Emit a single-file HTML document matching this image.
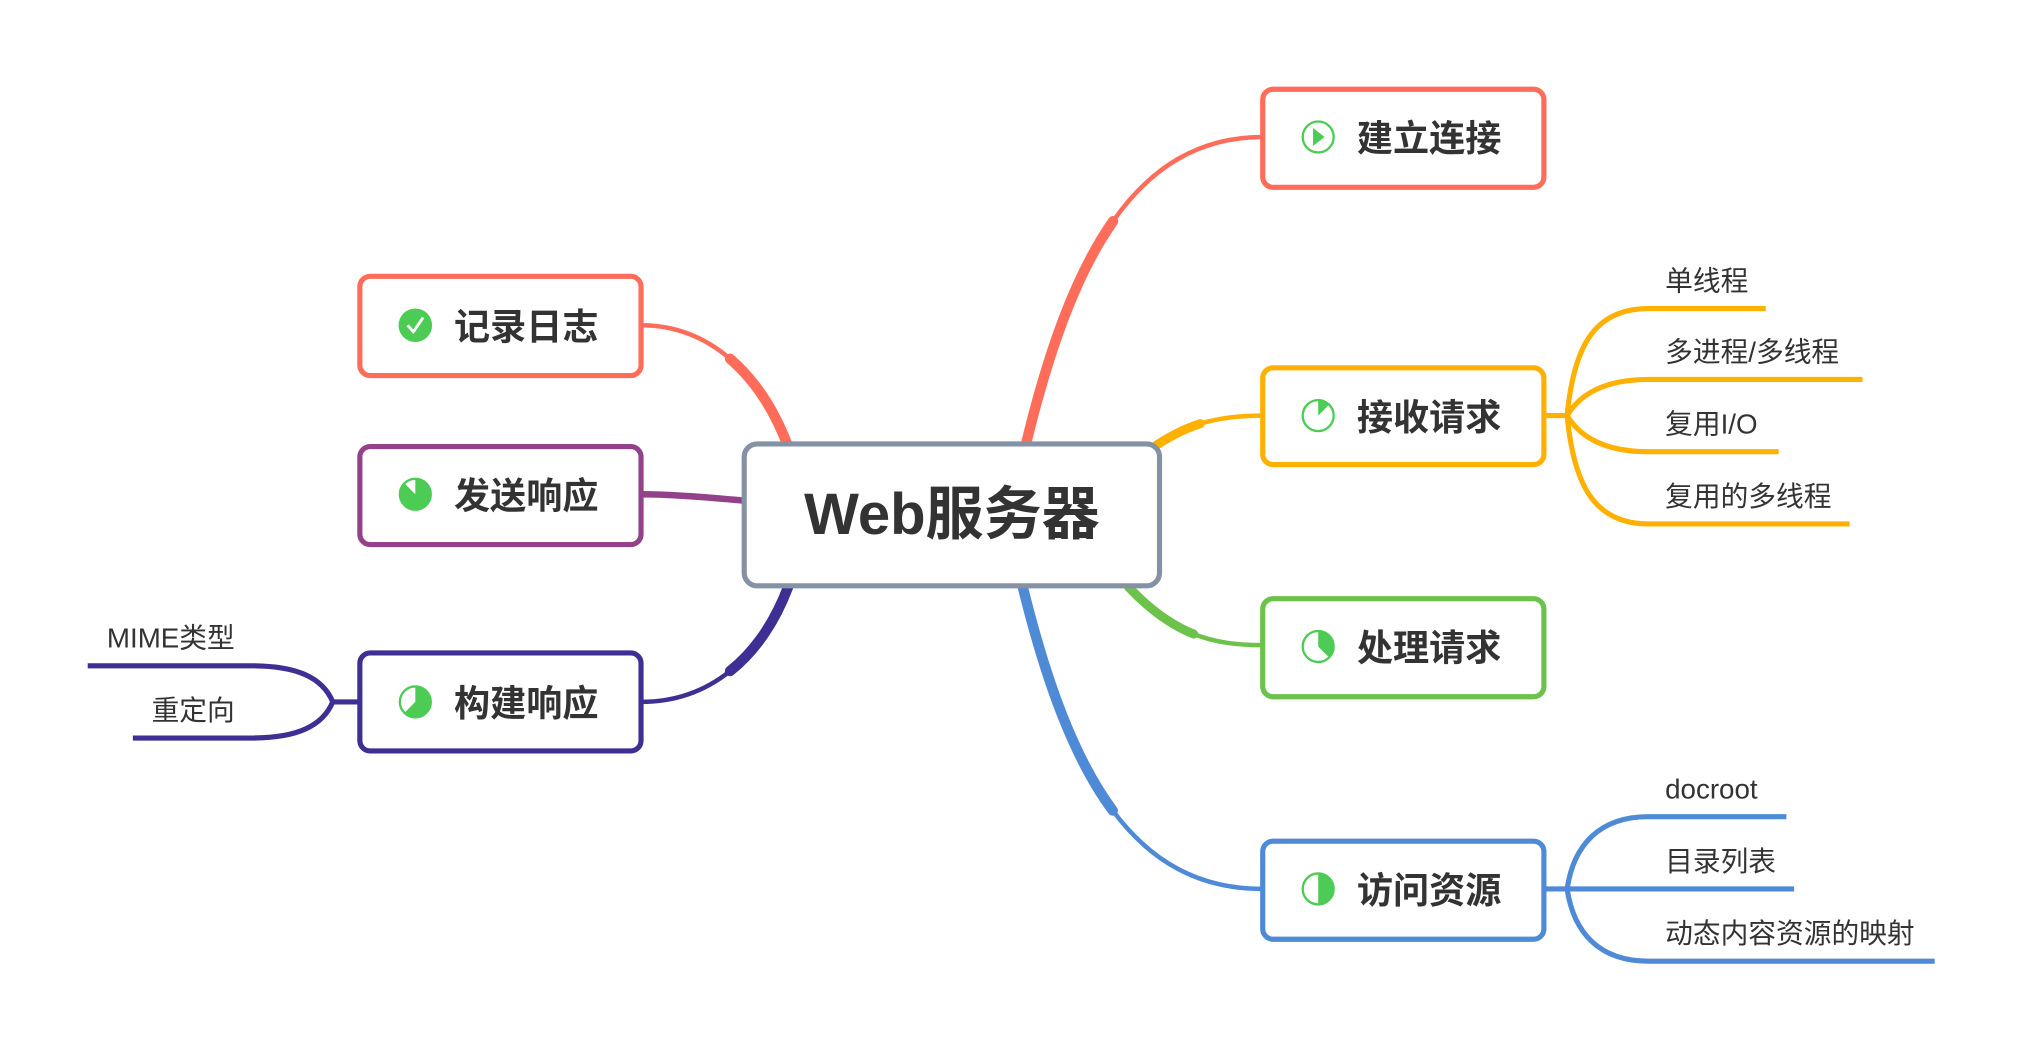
<!DOCTYPE html>
<html><head><meta charset="utf-8"><style>
html,body{margin:0;padding:0;background:#fff;}
svg{display:block;}
text{font-family:"Liberation Sans","Noto Sans CJK SC",sans-serif;}
.b{font-weight:bold;font-size:28px;fill:#333;}
.s{font-size:21.5px;fill:#333;}
</style></head><body>
<svg width="2025" height="1053" viewBox="0 0 1570 816" xmlns="http://www.w3.org/2000/svg">
<g fill="none" stroke-linecap="round">
<g stroke="#ff6d5a">
<path d="M795,346 C830,200 880,106 979,106" stroke-width="3.5"/>
<path d="M795,346 C812.5,273 833.75,213 863,171.25" stroke-width="8"/>
</g>
<g stroke="#ffb000">
<path d="M892,348 C918,330 940,322 979,322" stroke-width="3.5"/>
<path d="M892,348 C905,339 917,332.5 930.6,328.25" stroke-width="7"/>
</g>
<g stroke="#6cc24a">
<path d="M875,455 C910,492 940,500 979,500" stroke-width="3.5"/>
<path d="M875,455 C892.5,473.5 908.75,484.75 925.5,491.4" stroke-width="7"/>
</g>
<g stroke="#4e8ad6">
<path d="M793,455 C830,605 880,689 979,689" stroke-width="3.5"/>
<path d="M793,455 C811.5,530 833.25,588.5 862.75,628.25" stroke-width="8"/>
</g>
<g stroke="#ff6d5a">
<path d="M611,346 C590,290 550,252 497,252" stroke-width="3.5"/>
<path d="M611,346 C600.5,318 585.25,294.5 566,278" stroke-width="8"/>
</g>
<path d="M577,388 C545,385 520,383 497,383" stroke="#92418a" stroke-width="5"/>
<g stroke="#3e2f94">
<path d="M611,455 C590,510 550,544 497,544" stroke-width="3.5"/>
<path d="M611,455 C600.5,482.5 585.25,504.75 566,520.1" stroke-width="8"/>
</g>
</g>

<g fill="none" stroke="#ffb000" stroke-width="4">
<path d="M1197,322 L1215,322"/>
<path d="M1215,322 C1220,270 1235,239 1278,239 L1369,239"/>
<path d="M1215,322 C1225,305 1245,294 1278,294 L1444,294"/>
<path d="M1215,322 C1225,339 1245,350 1278,350 L1379,350"/>
<path d="M1215,322 C1220,374 1235,406 1278,406 L1434,406"/>
</g>
<g fill="none" stroke="#4e8ad6" stroke-width="4">
<path d="M1197,689 L1278,689 L1391,689"/>
<path d="M1215,689 C1220,655 1240,633 1278,633 L1385,633"/>
<path d="M1215,689 C1220,723 1240,745 1278,745 L1500,745"/>
</g>
<g fill="none" stroke="#3e2f94" stroke-width="4">
<path d="M279,544 L258,544"/>
<path d="M258,544 C250,525 230,516 195,516 L68,516"/>
<path d="M258,544 C250,563 230,572 195,572 L103,572"/>
</g>

<rect x="577" y="344" width="322" height="110" rx="10" fill="#fff" stroke="#8592a6" stroke-width="4"/>
<text x="738" y="414" text-anchor="middle" style="font-weight:bold;font-size:45px;fill:#333;">Web服务器</text>

<rect x="979" y="69" width="218" height="76" rx="8" fill="#fff" stroke="#ff6d5a" stroke-width="4"/>
<circle cx="1022" cy="106" r="12" fill="none" stroke="#4ccc55" stroke-width="1.8"/>
<path d="M1018,99 L1027,106 L1018,113 Z" fill="#4ccc55"/>
<text x="1052" y="117" class="b">建立连接</text>

<rect x="979" y="285" width="218" height="75" rx="8" fill="#fff" stroke="#ffb000" stroke-width="4"/>
<circle cx="1022" cy="322" r="12" fill="none" stroke="#4ccc55" stroke-width="1.8"/>
<path d="M1022,322 L1022,310 A12,12 0 0 1 1030.49,313.51 Z" fill="#4ccc55"/>
<text x="1052" y="333" class="b">接收请求</text>

<rect x="979" y="464" width="218" height="76" rx="8" fill="#fff" stroke="#6cc24a" stroke-width="4"/>
<circle cx="1022" cy="501" r="12" fill="none" stroke="#4ccc55" stroke-width="1.8"/>
<path d="M1022,501 L1022,489 A12,12 0 0 1 1030.49,509.49 Z" fill="#4ccc55"/>
<text x="1052" y="512" class="b">处理请求</text>

<rect x="979" y="652" width="218" height="76" rx="8" fill="#fff" stroke="#4e8ad6" stroke-width="4"/>
<circle cx="1022" cy="689" r="12" fill="none" stroke="#4ccc55" stroke-width="1.8"/>
<path d="M1022,689 L1022,677 A12,12 0 0 1 1022,701 Z" fill="#4ccc55"/>
<text x="1052" y="700" class="b">访问资源</text>

<rect x="279" y="214" width="218" height="77" rx="8" fill="#fff" stroke="#ff6d5a" stroke-width="4"/>
<circle cx="322" cy="252" r="13" fill="#4ccc55"/>
<path d="M316,252 L320.5,257 L328,246" fill="none" stroke="#fff" stroke-width="2.2"/>
<text x="352" y="263" class="b">记录日志</text>

<rect x="279" y="346" width="218" height="76" rx="8" fill="#fff" stroke="#92418a" stroke-width="4"/>
<circle cx="322" cy="383" r="12" fill="none" stroke="#4ccc55" stroke-width="1.8"/>
<path d="M322,383 L322,371 A12,12 0 1 1 313.51,374.51 Z" fill="#4ccc55"/>
<text x="352" y="394" class="b">发送响应</text>

<rect x="279" y="506" width="218" height="76" rx="8" fill="#fff" stroke="#3e2f94" stroke-width="4"/>
<circle cx="322" cy="544" r="12" fill="none" stroke="#4ccc55" stroke-width="1.8"/>
<path d="M322,544 L322,532 A12,12 0 1 1 313.51,552.49 Z" fill="#4ccc55"/>
<text x="352" y="555" class="b">构建响应</text>

<text x="1291" y="225" class="s">单线程</text>
<text x="1291" y="280" class="s">多进程/多线程</text>
<text x="1291" y="336" class="s">复用I/O</text>
<text x="1291" y="392" class="s">复用的多线程</text>
<text x="1291" y="619" class="s">docroot</text>
<text x="1291" y="675" class="s">目录列表</text>
<text x="1291" y="731" class="s">动态内容资源的映射</text>
<text x="182" y="502" class="s" text-anchor="end">MIME类型</text>
<text x="182" y="558" class="s" text-anchor="end">重定向</text>
</svg>
</body></html>
